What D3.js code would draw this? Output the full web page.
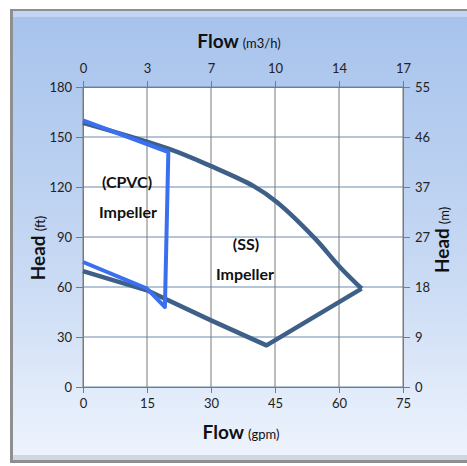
<!DOCTYPE html>
<html><head><meta charset="utf-8">
<script src="https://cdn.jsdelivr.net/npm/d3@7"></script>
<style>html,body{margin:0;padding:0;background:#fff;}svg{display:block;}</style>
</head><body>
<script>
// ---- data ----
const gpmTicks = [0, 15, 30, 45, 60, 75];
const m3hTickLabels = ["0", "3", "7", "10", "14", "17"];
const ftTicks = [0, 30, 60, 90, 120, 150, 180];
const mTickLabels = ["0", "9", "18", "27", "37", "46", "55"];

// SS impeller curve (gpm, ft)
const ssUpperFlow = [0, 20, 30, 40, 45.4, 54.4, 60.2, 65.3];
const ssUpperHead = [158.5, 143, 132.5, 120.5, 111, 89, 72, 59];
const ssLowerFlow = [65.3, 43, 30, 15, 0];
const ssLowerHead = [59, 25, 40, 58, 69.5];

// CPVC impeller curve (gpm, ft)
const cpvcFlow = [0, 20, 19.2, 15, 0];
const cpvcHead = [160, 141, 48, 59, 75];

const W = 467, H = 466;
const svg = d3.select("body").append("svg").attr("width", W).attr("height", H);
const defs = svg.append("defs");
const g1 = defs.append("linearGradient").attr("id", "bg").attr("x1", 0).attr("y1", 0).attr("x2", 0).attr("y2", 1);
g1.append("stop").attr("offset", "0%").attr("stop-color", "#a6c2ec");
g1.append("stop").attr("offset", "55%").attr("stop-color", "#c6d8f3");
g1.append("stop").attr("offset", "100%").attr("stop-color", "#eef4fd");

// frame
svg.append("rect").attr("x", 10).attr("y", 9).attr("width", 457).attr("height", 454).attr("fill", "#8f8f8f");
svg.append("rect").attr("x", 13).attr("y", 11).attr("width", 454).attr("height", 449).attr("fill", "url(#bg)");
svg.append("rect").attr("x", 13).attr("y", 11).attr("width", 454).attr("height", 6).attr("fill", "#c9daf4").attr("opacity", 0.8);
svg.append("rect").attr("x", 13).attr("y", 455).attr("width", 454).attr("height", 5).attr("fill", "#b9c3d3").attr("opacity", 0.6);

const x = d3.scaleLinear().domain([0, 75]).range([83, 403]);
const y = d3.scaleLinear().domain([0, 180]).range([387, 87]);

// plot area
svg.append("rect").attr("x", x(0)).attr("y", y(180)).attr("width", x(75) - x(0)).attr("height", y(0) - y(180)).attr("fill", "#ffffff");

// gridlines
svg.append("g").selectAll("line").data(ftTicks).join("line")
  .attr("x1", x(0)).attr("x2", x(75)).attr("y1", d => y(d)).attr("y2", d => y(d))
  .attr("stroke", "#6a8bb0").attr("stroke-width", 1.2);
svg.append("g").selectAll("line").data(gpmTicks).join("line")
  .attr("x1", d => x(d)).attr("x2", d => x(d)).attr("y1", y(0)).attr("y2", y(180))
  .attr("stroke", "#7a7a7a").attr("stroke-width", 1);

// axes
const font = "Lato, 'Open Sans', sans-serif";
function styleAxis(g) {
  g.select(".domain").attr("stroke", "#7a7a7a");
  g.selectAll(".tick line").attr("stroke", "#7a7a7a");
  g.selectAll(".tick text").attr("fill", "#222").style("font-family", font).style("font-size", "13px");
}
svg.append("g").attr("transform", `translate(0,${y(0)})`)
  .call(d3.axisBottom(x).tickValues(gpmTicks).tickSize(6).tickSizeOuter(0).tickPadding(6))
  .call(styleAxis);
svg.append("g").attr("transform", `translate(0,${y(180)})`)
  .call(d3.axisTop(x).tickValues(gpmTicks).tickSize(6).tickSizeOuter(0).tickPadding(8)
    .tickFormat((d, i) => m3hTickLabels[i]))
  .call(styleAxis);
svg.append("g").attr("transform", `translate(${x(0)},0)`)
  .call(d3.axisLeft(y).tickValues(ftTicks).tickSize(7).tickSizeOuter(0).tickPadding(4))
  .call(styleAxis);
svg.append("g").attr("transform", `translate(${x(75)},0)`)
  .call(d3.axisRight(y).tickValues(ftTicks).tickSize(7).tickSizeOuter(0).tickPadding(5)
    .tickFormat((d, i) => mTickLabels[i]))
  .call(styleAxis);

// curves
const pts = (fx, fy) => fx.map((v, i) => [v, fy[i]]);
const smooth = d3.line().x(d => x(d[0])).y(d => y(d[1])).curve(d3.curveCatmullRom.alpha(0.5));
const straight = d3.line().x(d => x(d[0])).y(d => y(d[1]));
const ssColor = "#3d5f88", cpvcColor = "#3a6ff0";
svg.append("path").attr("d", smooth(pts(ssUpperFlow, ssUpperHead)))
  .attr("fill", "none").attr("stroke", ssColor).attr("stroke-width", 4.5).attr("stroke-linejoin", "round");
svg.append("path").attr("d", straight(pts(ssLowerFlow, ssLowerHead)))
  .attr("fill", "none").attr("stroke", ssColor).attr("stroke-width", 4.5).attr("stroke-linejoin", "round");
svg.append("path").attr("d", straight(pts(cpvcFlow, cpvcHead)))
  .attr("fill", "none").attr("stroke", cpvcColor).attr("stroke-width", 4).attr("stroke-linejoin", "round");

// annotations
const ann = svg.append("g").style("font-family", font).style("font-weight", "bold").style("font-size", "16px")
  .attr("fill", "#111").attr("text-anchor", "middle");
ann.append("text").attr("x", 127).attr("y", 188).text("(CPVC)");
ann.append("text").attr("x", 128).attr("y", 218).text("Impeller");
ann.append("text").attr("x", 246).attr("y", 250).text("(SS)");
ann.append("text").attr("x", 245).attr("y", 280).text("Impeller");

// axis titles
function title(g, main, unit) {
  g.append("tspan").style("font-weight", "bold").style("font-size", "19px").text(main);
  g.append("tspan").style("font-size", "13px").attr("dx", 4).text(unit);
}
const tTop = svg.append("text").attr("x", 239).attr("y", 48).attr("text-anchor", "middle")
  .style("font-family", font).attr("fill", "#111");
title(tTop, "Flow", "(m3/h)");
const tBot = svg.append("text").attr("x", 241).attr("y", 439).attr("text-anchor", "middle")
  .style("font-family", font).attr("fill", "#111");
title(tBot, "Flow", "(gpm)");
const tLeft = svg.append("text").attr("transform", "translate(45,248) rotate(-90)").attr("text-anchor", "middle")
  .style("font-family", font).attr("fill", "#111");
title(tLeft, "Head", "(ft)");
const tRight = svg.append("text").attr("transform", "translate(449,240) rotate(-90)").attr("text-anchor", "middle")
  .style("font-family", font).attr("fill", "#111");
title(tRight, "Head", "(m)");
</script>
</body></html>
